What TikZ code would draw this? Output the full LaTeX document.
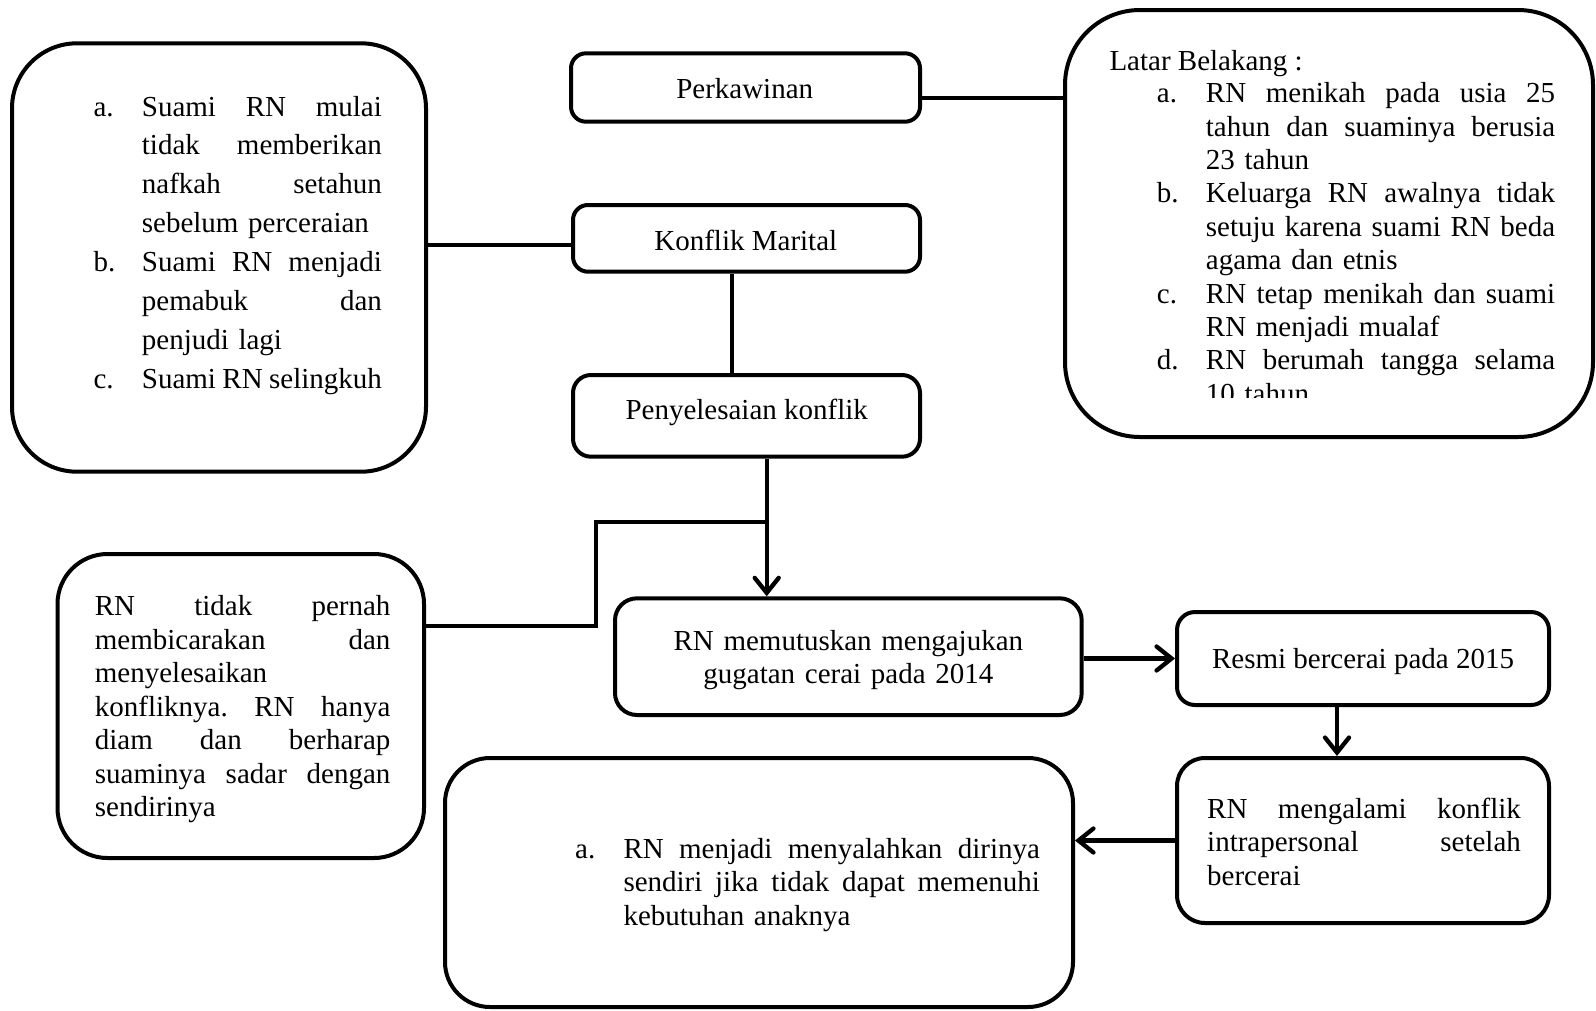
\documentclass[tikz,border=0pt]{standalone}
\usepackage{fontspec}
\setmainfont{Liberation Serif}
\usetikzlibrary{arrows.meta}
\newcommand\jline[2]{\leavevmode\hbox to #1{#2}}
\tikzset{
  box/.style={draw, line width=4pt, inner sep=0pt, rectangle},
  txt/.style={inner sep=0pt, font=\fontsize{29}{33.4}\selectfont, anchor=base west},
  ctxt/.style={inner sep=0pt, font=\fontsize{29}{33.4}\selectfont, anchor=base},
  conn/.style={line width=4.3pt},
  arr/.style={line width=4.3pt, -{Straight Barb[length=15pt,width=24pt,line cap=round]}},
}
\begin{document}
\begin{tikzpicture}[x=1pt,y=-1pt]
\fill[white] (0,0) rectangle (1596,1010);
\useasboundingbox (0,0) rectangle (1596,1010);

% boxes
\node[box, rounded corners=65pt, minimum width=414pt, minimum height=428.4pt] (lt) at (219,257.5) {};
\node[box, rounded corners=15pt, minimum width=349pt, minimum height=68.4pt] (perk) at (745.5,87.5) {};
\node[box, rounded corners=15pt, minimum width=347pt, minimum height=66.7pt] (km) at (746.5,238.35) {};
\node[box, rounded corners=18pt, minimum width=347pt, minimum height=81.7pt] (ps) at (746.5,415.85) {};
\node[box, rounded corners=75pt, minimum width=528pt, minimum height=427pt] (latar) at (1329,223.5) {};
\node[box, rounded corners=50pt, minimum width=366.5pt, minimum height=304pt] (lm) at (240.75,706) {};
\node[box, rounded corners=22pt, minimum width=466.7pt, minimum height=116.7pt] (rm) at (848.35,656.65) {};
\node[box, rounded corners=18pt, minimum width=372pt, minimum height=93pt] (rs) at (1363,658.5) {};
\node[box, rounded corners=28pt, minimum width=372pt, minimum height=165pt] (mg) at (1363,840.5) {};
\node[box, rounded corners=45pt, minimum width=628pt, minimum height=249pt] (bt) at (759,882.5) {};

% texts in small boxes
\node[ctxt] (perk-t) at (744.7,98.3) {Perkawinan};
\node[ctxt] (km-t) at (745.8,250) {Konflik Marital};
\node[ctxt] (ps-t) at (746.7,419.3) {Penyelesaian konflik};
\node[ctxt, text width=440pt, align=center] (rm-t) at (848.35,650) {RN memutuskan mengajukan\\gugatan cerai pada 2014};
\node[ctxt] (rs-t) at (1363,668) {Resmi bercerai pada 2015};

% Latar Belakang
\node[txt] (lat-h) at (1109.3,70) {Latar Belakang :};
\begin{scope}
\clip (1070,15) rectangle (1590,397);
\node[txt, text width=380pt, align=left] (lat-t) at (1205.7,102.7) {\jline{349.3pt}{RN\hfill menikah\hfill pada\hfill usia\hfill 25}\\
\jline{349.3pt}{tahun\hfill dan\hfill suaminya\hfill berusia}\\
23 tahun\\
\jline{349.3pt}{Keluarga\hfill RN\hfill awalnya\hfill tidak}\\
\jline{349.3pt}{setuju\hfill karena\hfill suami\hfill RN\hfill beda}\\
agama dan etnis\\
\jline{349.3pt}{RN\hfill tetap\hfill menikah\hfill dan\hfill suami}\\
RN menjadi mualaf\\
\jline{349.3pt}{RN\hfill berumah\hfill tangga\hfill selama}\\
10 tahun};
\end{scope}
\node[txt] (lat-a) at (1156.7,102.7) {a.};
\node[txt] (lat-b) at (1156.7,202.9) {b.};
\node[txt] (lat-c) at (1156.7,303.1) {c.};
\node[txt] (lat-d) at (1156.7,369.9) {d.};

% left top
\node[txt, font=\fontsize{29}{38.9}\selectfont, text width=300pt, align=left] (lt-t) at (141.7,116) {\jline{240pt}{Suami\hfill RN\hfill mulai}\\
\jline{240pt}{tidak\hfill memberikan}\\
\jline{240pt}{nafkah\hfill setahun}\\
sebelum perceraian\\
\jline{240pt}{Suami\hfill RN\hfill menjadi}\\
\jline{240pt}{pemabuk\hfill dan}\\
penjudi lagi\\
\jline{240pt}{Suami\hfill RN\hfill selingkuh}};
\node[txt] (lt-a) at (93.3,116) {a.};
\node[txt] (lt-b) at (93.3,271.6) {b.};
\node[txt] (lt-c) at (93.3,388.3) {c.};

% left middle
\node[txt, font=\fontsize{29}{33.5}\selectfont, text width=340pt, align=left] (lm-t) at (94.7,615.7) {\jline{295.5pt}{RN\hfill tidak\hfill pernah}\\
\jline{295.5pt}{membicarakan\hfill dan}\\
menyelesaikan\\
\jline{295.5pt}{konfliknya.\hfill RN\hfill hanya}\\
\jline{295.5pt}{diam\hfill dan\hfill berharap}\\
\jline{295.5pt}{suaminya\hfill sadar\hfill dengan}\\
sendirinya};

% RN mengalami
\node[txt, font=\fontsize{29}{33.5}\selectfont, text width=340pt, align=left] (mg-t) at (1207,818) {\jline{313.7pt}{RN\hfill mengalami\hfill konflik}\\
\jline{313.7pt}{intrapersonal\hfill setelah}\\
bercerai};

% bottom
\node[txt] (bt-a) at (575,858.3) {a.};
\node[txt, font=\fontsize{29}{33.4}\selectfont, text width=440pt, align=left] (bt-t) at (623.3,858.3) {\jline{416.4pt}{RN\hfill menjadi\hfill menyalahkan\hfill dirinya}\\
\jline{416.4pt}{sendiri\hfill jika\hfill tidak\hfill dapat\hfill memenuhi}\\
kebutuhan anaknya};

% connectors
\draw[conn] ([yshift=-10.8pt]perk.east) -- ([yshift=-10.8pt]perk.east -| latar.west);
\draw[conn] ([yshift=-6.65pt]km.west) -- ([yshift=-6.65pt]km.west -| lt.east);
\draw[conn] ([xshift=-14.8pt]km.south) -- ([xshift=-14.8pt]ps.north);
\coordinate (jn) at (766.7,522);
\draw[arr] ([xshift=20.2pt]ps.south) -- ([xshift=20.2pt]ps.south |- rm.north);
\draw[conn] ([yshift=80pt]lm.east) -| ([xshift=-170.7pt]jn) -- (jn);
\draw[arr] (rm.east |- rs.west) -- (rs.west);
\draw[arr] ([xshift=-26pt]rs.south) -- ([xshift=-26pt]mg.north);
\draw[arr] (mg.west) -- (mg.west -| bt.east);
\end{tikzpicture}
\end{document}
